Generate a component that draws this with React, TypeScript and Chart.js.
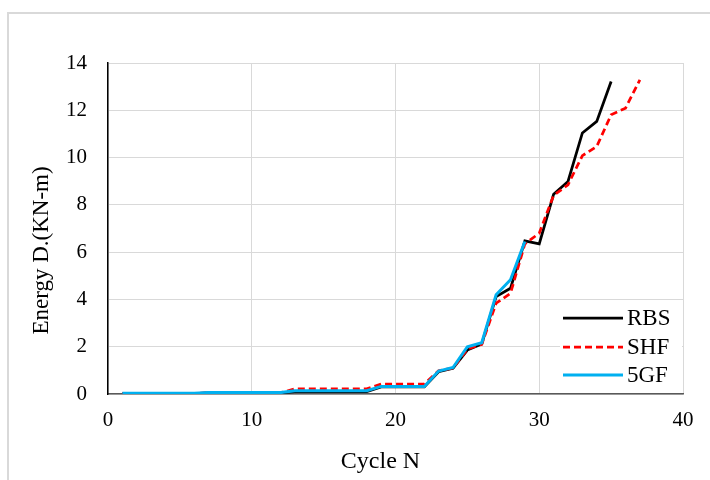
import React, { useEffect, useRef } from "react";
import { Chart, registerables } from "chart.js";

Chart.register(...registerables);

const cycles = [1,2,3,4,5,6,7,8,9,10,11,12,13,14,15,16,17,18,19,20,21,22,23,24,25,26,27,28,29,30,31,32,33,34,35,36,37];
const rbs = [0.02,0.02,0.02,0.02,0.02,0.02,0.05,0.05,0.05,0.05,0.05,0.05,0.1,0.1,0.1,0.1,0.1,0.1,0.3,0.3,0.3,0.3,0.94,1.09,1.86,2.12,4.12,4.47,6.48,6.35,8.45,8.99,11.04,11.53,13.22];
const shf = [0.02,0.02,0.02,0.02,0.02,0.02,0.05,0.05,0.05,0.05,0.05,0.05,0.22,0.22,0.22,0.22,0.22,0.22,0.42,0.42,0.42,0.42,0.98,1.1,1.9,2.1,3.84,4.26,6.35,6.8,8.4,8.85,10.08,10.47,11.81,12.09,13.29];
const gf5 = [0.03,0.03,0.03,0.03,0.03,0.03,0.06,0.06,0.06,0.06,0.06,0.06,0.14,0.14,0.14,0.14,0.14,0.14,0.32,0.32,0.32,0.32,0.97,1.12,2.0,2.17,4.2,4.83,6.45];
const seriesNames = ["RBS", "SHF", "5GF"];
const xTitle = "Cycle N";
const yTitle = "Energy D.(KN-m)";

const FONT = "'Liberation Serif', 'Times New Roman', serif";

const pts = (vals: number[]) => vals.map((v, i) => ({ x: cycles[i], y: v }));

export default function App() {
  const ref = useRef<HTMLCanvasElement | null>(null);
  useEffect(() => {
    if (!ref.current) return;
    const framePlugin = {
      id: "frame",
      beforeDraw(chart: any) {
        const ctx = chart.ctx;
        ctx.save();
        ctx.fillStyle = "#ffffff";
        ctx.fillRect(0, 0, chart.width, chart.height);
        ctx.strokeStyle = "#d9d9d9";
        ctx.lineWidth = 2;
        ctx.beginPath();
        ctx.moveTo(8, chart.height);
        ctx.lineTo(8, 13);
        ctx.lineTo(chart.width, 13);
        ctx.stroke();
        ctx.restore();
      },
      afterDraw(chart: any) {
        const ctx = chart.ctx;
        const ca = chart.chartArea;
        ctx.save();
        ctx.fillStyle = "#000";
        ctx.font = `24px ${FONT}`;
        ctx.textAlign = "center";
        ctx.textBaseline = "middle";
        ctx.fillText(xTitle, (ca.left + ca.right) / 2 - 15, 462);
        ctx.font = `23px ${FONT}`;
        ctx.translate(42, (ca.top + ca.bottom) / 2 + 22);
        ctx.rotate(-Math.PI / 2);
        ctx.fillText(yTitle, 0, 0);
        ctx.restore();

        // legend
        ctx.save();
        ctx.fillStyle = "#ffffff";
        ctx.fillRect(560, 302, ca.right - 561, 90);
        const ys = [318, 347, 375];
        chart.data.datasets.forEach((ds: any, i: number) => {
          ctx.strokeStyle = ds.borderColor;
          ctx.lineWidth = ds.borderWidth;
          ctx.setLineDash(ds.borderDash || []);
          ctx.beginPath();
          ctx.moveTo(563, ys[i]);
          ctx.lineTo(623, ys[i]);
          ctx.stroke();
          ctx.setLineDash([]);
          ctx.fillStyle = "#000";
          ctx.font = `23px ${FONT}`;
          ctx.textAlign = "left";
          ctx.textBaseline = "middle";
          ctx.fillText(ds.label, 627, ys[i] + 1);
        });
        ctx.restore();
      },
    };

    const chart = new Chart(ref.current, {
      type: "line",
      data: {
        datasets: [
          { label: seriesNames[0], data: pts(rbs), borderColor: "#000000", borderWidth: 2.75, pointRadius: 0, tension: 0, order: 2 },
          { label: seriesNames[1], data: pts(shf), borderColor: "#ff0000", borderWidth: 2.75, borderDash: [7, 4], pointRadius: 0, tension: 0, order: 1 },
          { label: seriesNames[2], data: pts(gf5), borderColor: "#00b0f0", borderWidth: 3, pointRadius: 0, tension: 0, order: 0 },
        ],
      },
      options: {
        responsive: false,
        animation: false,
        layout: { padding: { left: 0, top: 63, right: 27, bottom: 0 } },
        plugins: { legend: { display: false }, tooltip: { enabled: false } },
        scales: {
          x: {
            type: "linear",
            min: 0,
            max: 40,
            ticks: { stepSize: 10, color: "#000", font: { family: FONT, size: 21 }, padding: 14, maxRotation: 0 },
            grid: { color: "#d9d9d9", lineWidth: 1, drawTicks: false },
            border: { color: "#595959", width: 1.5 },
            afterFit: (s: any) => { s.height = 86; },
          },
          y: {
            type: "linear",
            min: 0,
            max: 14,
            ticks: { stepSize: 2, color: "#000", font: { family: FONT, size: 21 }, padding: 21 },
            grid: { color: "#d9d9d9", lineWidth: 1, drawTicks: false },
            border: { color: "#000000", width: 1.5 },
            afterFit: (s: any) => { s.width = 108; },
          },
        },
      },
      plugins: [framePlugin],
    });
    return () => chart.destroy();
  }, []);

  return (
    <div style={{ position: "fixed", left: 0, top: 0, width: 710, height: 480 }}>
      <canvas ref={ref} width={710} height={480} style={{ width: 710, height: 480 }} />
    </div>
  );
}
